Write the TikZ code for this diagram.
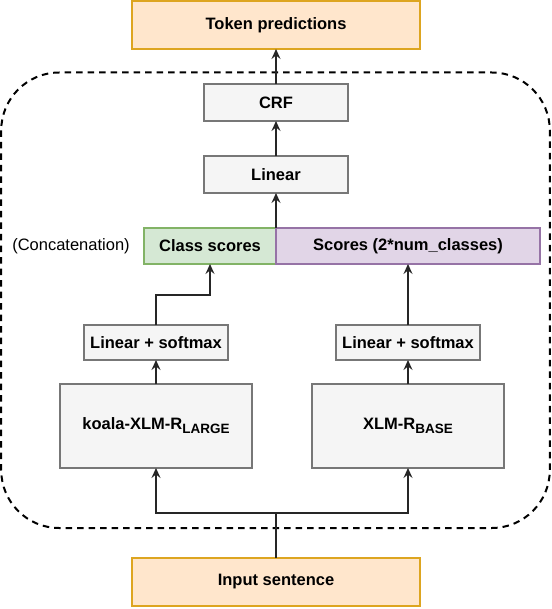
\documentclass[tikz,border=0pt]{standalone}
\usepackage{fontspec}
\setmainfont{Liberation Sans}
\usetikzlibrary{arrows.meta}
\definecolor{orfill}{HTML}{FFE6CC}
\definecolor{ordraw}{HTML}{DDA520}
\definecolor{gyfill}{HTML}{F5F5F5}
\definecolor{gydraw}{HTML}{777777}
\definecolor{grfill}{HTML}{D5E8D4}
\definecolor{grdraw}{HTML}{82B366}
\definecolor{pufill}{HTML}{E1D5E7}
\definecolor{pudraw}{HTML}{9673A6}
\tikzset{
  box/.style={draw, line width=1.2pt, inner sep=0pt, outer sep=0pt, font=\fontsize{16.5}{19}\selectfont\bfseries},
  orbox/.style={box, fill=orfill, draw=ordraw},
  gybox/.style={box, fill=gyfill, draw=gydraw},
  grbox/.style={box, fill=grfill, draw=grdraw},
  pubox/.style={box, fill=pufill, draw=pudraw},
  arr/.style={draw=black!85, line width=1.2pt, -{Stealth[length=10pt,width=9pt,inset=3.5pt]}},
  ln/.style={draw=black!85, line width=1.2pt},
}
\newcommand{\subtxt}[1]{\raisebox{-0.45ex}{\fontsize{13.5}{14}\selectfont #1}}
\begin{document}
\begin{tikzpicture}[x=1pt,y=-1pt]
\useasboundingbox (0,0) rectangle (551,609);
\draw[black, line width=2pt, dash pattern=on 6.5pt off 5pt, rounded corners=58pt] (1.2,72.5) rectangle (549.8,528);
\node[orbox, minimum width=288pt, minimum height=48pt] (tok) at (276,25) {Token predictions};
\node[gybox, minimum width=144pt, minimum height=37pt] (crf) at (276,102.5) {CRF};
\node[gybox, minimum width=144pt, minimum height=37pt] (lin) at (276,174.5) {Linear};
\node[grbox, minimum width=132pt, minimum height=36pt] (cls) at (210,246) {Class scores};
\node[pubox, minimum width=264pt, minimum height=36pt] (scr) at (408,246) {Scores (2*num\_classes)};
\node[font=\fontsize{16.5}{19}\selectfont, inner sep=0pt] (conc) at (71,246) {(Concatenation)};
\node[gybox, minimum width=144pt, minimum height=35pt] (lsl) at (156,342.5) {Linear + softmax};
\node[gybox, minimum width=144pt, minimum height=35pt] (lsr) at (408,342.5) {Linear + softmax};
\node[gybox, minimum width=192pt, minimum height=84pt] (kl) at (156,426) {koala-XLM-R\subtxt{LARGE}};
\node[gybox, minimum width=192pt, minimum height=84pt] (xb) at (408,426) {XLM-R\subtxt{BASE}};
\node[orbox, minimum width=288pt, minimum height=48pt] (inp) at (276,582) {Input sentence};
\coordinate (split) at (276,513);
\draw[ln] (inp.north) -- (split);
\draw[arr] (split) -| (kl.south);
\draw[arr] (split) -| (xb.south);
\draw[arr] (kl.north) -- (lsl.south);
\draw[arr] (xb.north) -- (lsr.south);
\draw[arr] (lsl.north) -- ++(0,-30) -| (cls.south);
\draw[arr] (lsr.north) -- (scr.south);
\draw[arr] (cls.north east) -- (lin.south);
\draw[arr] (lin.north) -- (crf.south);
\draw[arr] (crf.north) -- (tok.south);
\end{tikzpicture}
\end{document}
